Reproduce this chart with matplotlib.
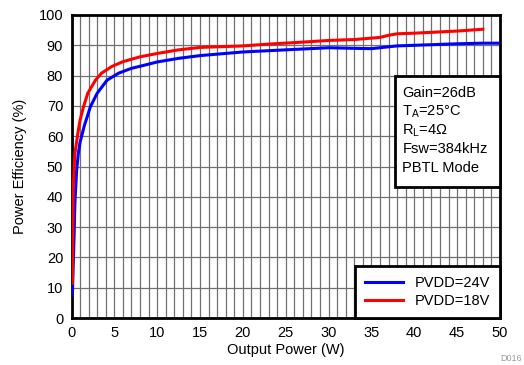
import matplotlib
matplotlib.use("Agg")
import matplotlib.pyplot as plt
from matplotlib.patches import Rectangle

plt.rcParams['font.family'] = ['Liberation Sans', 'DejaVu Sans']
plt.rcParams['mathtext.fontset'] = 'custom'
plt.rcParams['mathtext.rm'] = 'Liberation Sans'

# PVDD = 24V
p24 = [0.1, 0.3, 0.4, 0.6, 0.8, 1.0, 1.5, 2.2, 3.0, 4.15, 5.5, 7.0, 8.6, 10,
       12.5, 15, 20, 25, 30, 33, 35, 38, 40, 45, 48, 50]
eff24 = [7.6, 26.8, 38, 48.8, 54.4, 58, 63.5, 69.7, 74.2, 78.5, 80.8, 82.4, 83.5, 84.5,
         85.7, 86.6, 87.8, 88.5, 89.2, 89.0, 88.9, 89.8, 90.0, 90.5, 90.7, 90.7]

# PVDD = 18V
p18 = [0.1, 0.2, 0.4, 0.8, 1.0, 1.4, 1.9, 2.8, 3.5, 4.7, 6.0, 8.0, 10, 12.5, 15,
       20, 23, 26.7, 30, 33, 36, 37, 38, 40, 45, 48]
eff18 = [11.5, 43.3, 54.4, 62, 65.3, 69.7, 74.2, 78.5, 80.8, 83, 84.6, 86.2, 87.3, 88.5, 89.3,
         89.8, 90.4, 91, 91.6, 91.9, 92.6, 93.3, 93.8, 94, 94.7, 95.3]

conditions = ["Gain=26dB", r"T$_\mathregular{A}$=25°C", r"R$_\mathregular{L}$=4Ω",
              "Fsw=384kHz", "PBTL Mode"]

fig = plt.figure(figsize=(5.24, 3.65), dpi=100)
ax = fig.add_axes([71.5 / 524, 1 - 318 / 365, 428.5 / 524, 303 / 365])

ax.plot(p24, eff24, color='#0000ff', lw=2.2, label="PVDD=24V", zorder=3)
ax.plot(p18, eff18, color='#ff0000', lw=2.2, label="PVDD=18V", zorder=3)

ax.set_xlim(0, 50)
ax.set_ylim(0, 100)
ax.set_xticks(range(0, 51, 5))
ax.set_yticks(range(0, 101, 10))
ax.set_xticks(range(0, 51, 1), minor=True)
ax.grid(True, which='both', axis='x', color='#707070', lw=0.9)
ax.grid(True, which='major', axis='y', color='#707070', lw=0.9)
ax.tick_params(which='both', length=0, labelsize=10.5, pad=6)
for s in ax.spines.values():
    s.set_linewidth(2)
ax.set_axisbelow(True)

ax.set_xlabel("Output Power (W)", fontsize=10.5, labelpad=2)
ax.set_ylabel("Power Efficiency (%)", fontsize=10.5, labelpad=8)

leg = ax.legend(loc='lower right', borderaxespad=0, fancybox=False,
                edgecolor='black', fontsize=10.5, handlelength=2.6,
                borderpad=0.7, labelspacing=0.25, framealpha=1)
leg.get_frame().set_linewidth(2)

ax.add_patch(Rectangle((0.755, 0.433), 0.245, 0.367, transform=ax.transAxes,
                       facecolor='white', edgecolor='black', lw=2, zorder=5,
                       clip_on=False))
for i, line in enumerate(conditions):
    ax.text(0.772, 0.743 - i * 0.0617, line, transform=ax.transAxes,
            fontsize=10.5, va='center', ha='left', zorder=6)

fig.text(0.995, 0.005, "D016", fontsize=6.5, color='#999999', ha='right', va='bottom')

fig.savefig("out.png", dpi=100)
